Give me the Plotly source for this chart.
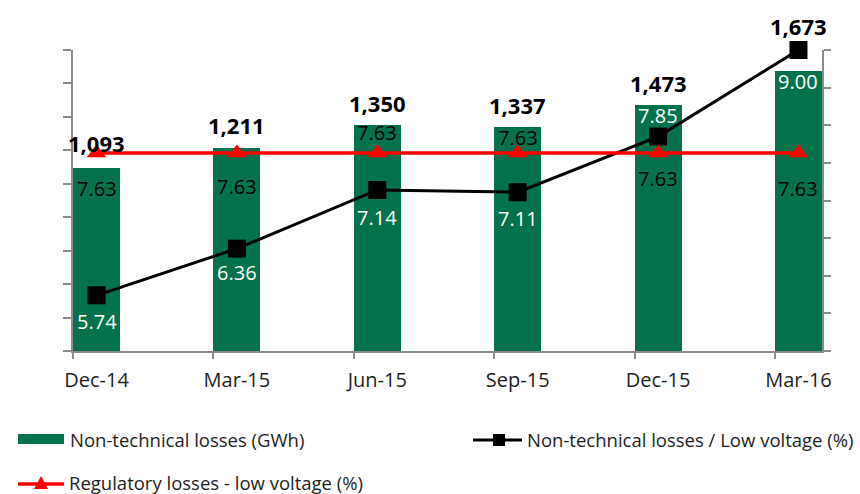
import plotly.graph_objects as go

# ---- data ----
periods = ["Dec-14", "Mar-15", "Jun-15", "Sep-15", "Dec-15", "Mar-16"]
ntl_gwh = [1093, 1211, 1350, 1337, 1473, 1673]          # Non-technical losses (GWh)
ntl_pct = [5.74, 6.36, 7.14, 7.11, 7.85, 9.00]          # Non-technical losses / Low voltage (%)
reg_pct = [7.63, 7.63, 7.63, 7.63, 7.63, 7.63]          # Regulatory losses - low voltage (%)

legend_names = [
    "Non-technical losses (GWh)",
    "Non-technical losses / Low voltage (%)",
    "Regulatory losses - low voltage (%)",
]

# ---- styling ----
GREEN = "#04724A"
RED = "#FF0000"
BLACK = "#000000"
AXIS = "#8C8C8C"
TEXT = "#1E1E1E"
FONT = "Open Sans"
BAR_W = 0.335

# label offsets in pixels (positive = up)
bar_label_shift = [26, 24, 23, 23, 23, 46]
ntl_label_shift = [-25, -23, -27, -25, 22, -30]
reg_label_shift = [-34, -32, 22, 17, -24, -34]

# plot-area pixel frame
PL, PR, PT, PB = 73, 822, 50, 351
W, H = 860, 494


def px_x(px):
    return (px - PL) / (PR - PL)


def px_y(py):
    return (PB - py) / (PB - PT)


xs = list(range(len(periods)))

fig = go.Figure()

fig.add_trace(go.Bar(
    x=xs, y=ntl_gwh, width=BAR_W, name=legend_names[0],
    marker=dict(color=GREEN, line=dict(width=0)),
    yaxis="y", showlegend=False,
))

fig.add_trace(go.Scatter(
    x=xs, y=ntl_pct, name=legend_names[1], mode="lines+markers",
    line=dict(color=BLACK, width=3),
    marker=dict(symbol="square", size=18, color=BLACK),
    yaxis="y2", cliponaxis=False, showlegend=False,
))

fig.add_trace(go.Scatter(
    x=xs, y=reg_pct, name=legend_names[2], mode="lines+markers",
    line=dict(color=RED, width=3.5),
    marker=dict(symbol="triangle-up", size=17, color=RED),
    yaxis="y2", cliponaxis=False, showlegend=False,
))

annotations = []
for i, v in enumerate(ntl_gwh):
    annotations.append(dict(
        x=i, y=v, xref="x", yref="y", text=f"{v:,}", showarrow=False,
        yanchor="middle", yshift=bar_label_shift[i] - 1,
        font=dict(family=FONT, size=22, color=BLACK, weight="bold"),
    ))
for i, v in enumerate(ntl_pct):
    annotations.append(dict(
        x=i, y=v, xref="x", yref="y2", text=f"{v:.2f}", showarrow=False,
        yanchor="middle", yshift=ntl_label_shift[i] - 1,
        font=dict(family=FONT, size=20, color="#FFFFFF"),
    ))
for i, v in enumerate(reg_pct):
    annotations.append(dict(
        x=i, y=v, xref="x", yref="y2", text=f"{v:.2f}", showarrow=False,
        yanchor="middle", yshift=reg_label_shift[i] - 1,
        font=dict(family=FONT, size=20, color=BLACK),
    ))

# legend drawn beneath the chart
legend_font = dict(family=FONT, size=18.5, color=TEXT)
annotations += [
    dict(x=px_x(69), y=px_y(439), xref="paper", yref="paper", text=legend_names[0],
         showarrow=False, xanchor="left", yanchor="middle", borderpad=0, font=legend_font),
    dict(x=px_x(526), y=px_y(439), xref="paper", yref="paper", text=legend_names[1],
         showarrow=False, xanchor="left", yanchor="middle", borderpad=0, font=legend_font),
    dict(x=px_x(68), y=px_y(482), xref="paper", yref="paper", text=legend_names[2],
         showarrow=False, xanchor="left", yanchor="middle", borderpad=0, font=legend_font),
]

shapes = [
    dict(type="rect", xref="paper", yref="paper",
         x0=px_x(18), x1=px_x(64), y0=px_y(444), y1=px_y(434),
         fillcolor=GREEN, line=dict(width=0)),
    dict(type="line", xref="paper", yref="paper",
         x0=px_x(473), x1=px_x(522), y0=px_y(440), y1=px_y(440),
         line=dict(color=BLACK, width=3)),
    dict(type="rect", xref="paper", yref="paper",
         x0=px_x(493), x1=px_x(505), y0=px_y(446), y1=px_y(434),
         fillcolor=BLACK, line=dict(width=0)),
    dict(type="line", xref="paper", yref="paper",
         x0=px_x(18), x1=px_x(64), y0=px_y(484), y1=px_y(484),
         line=dict(color=RED, width=3.5)),
    dict(type="path", xref="paper", yref="paper",
         path=(f"M {px_x(41)},{px_y(476)} L {px_x(48)},{px_y(489)} "
               f"L {px_x(34)},{px_y(489)} Z"),
         fillcolor=RED, line=dict(width=0)),
]

fig.update_layout(
    width=W, height=H,
    margin=dict(l=PL, r=W - PR, t=PT, b=H - PB),
    paper_bgcolor="white", plot_bgcolor="white",
    font=dict(family=FONT, color=TEXT),
    showlegend=False,
    bargap=0,
    xaxis=dict(
        range=[-BAR_W / 2, len(periods) - 1 + BAR_W / 2],
        tickvals=xs, ticktext=periods, ticks="",
        tickfont=dict(family=FONT, size=20, color=TEXT),
        ticklabelstandoff=10,
        showline=True, linecolor=AXIS, linewidth=1.5,
        showgrid=False, zeroline=False,
        minor=dict(ticks="outside", tick0=-BAR_W / 2, dtick=1,
                   ticklen=6, tickcolor=AXIS, tickwidth=1.5, showgrid=False),
    ),
    yaxis=dict(
        range=[0, 1800], dtick=200, tick0=0,
        showticklabels=False, ticks="outside", ticklen=8,
        tickcolor=AXIS, tickwidth=1.5,
        showline=True, linecolor=AXIS, linewidth=1.5,
        showgrid=False, zeroline=False,
    ),
    yaxis2=dict(
        range=[5, 9], dtick=0.5, tick0=5,
        overlaying="y", side="right",
        showticklabels=False, ticks="outside", ticklen=7,
        tickcolor=AXIS, tickwidth=1.5,
        showline=True, linecolor=AXIS, linewidth=1.5,
        showgrid=False, zeroline=False,
    ),
    annotations=annotations,
    shapes=shapes,
)

fig.write_html("out.html")
